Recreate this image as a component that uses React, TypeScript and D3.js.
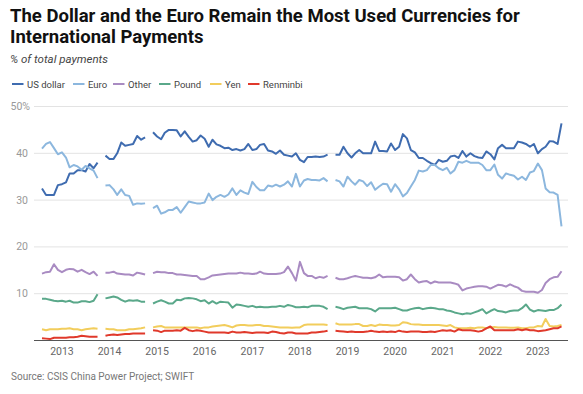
import React from "react";
import * as d3 from "d3";

const W = 583;
const H = 394;

const startMonth = new Date(2012, 7, 1); // Aug 2012
const N = 132;
const months: Date[] = Array.from({ length: N }, (_, i) => d3.timeMonth.offset(startMonth, i));

const usDollar: (number | null)[] = [
  32.5, 31.1, 31.1, 31.1, 33.2, 33.4, 33.8, 35.7, 35.7, 36.4, 36.4, 36.1, 37.7, 36.8, 38.0, null,
  39.5, 38.8, 38.8, 40.0, 42.3, 41.6, 41.8, 42.0, 43.7, 42.9, 43.4, null,
  44.5, 43.6, 43.0, 44.4, 45.0, 45.0, 44.9, 43.6, 44.7, 43.5, 42.5, 42.8, 43.8, 43.1, 41.4, 42.9,
  41.9, 41.6, 41.1, 41.2, 40.7, 40.9, 40.6, 40.9, 42.0, 40.7, 40.9, 41.8, 42.0, 40.6, 40.4, 39.9,
  40.6, 39.7, 39.5, 39.3, 40.0, 38.6, 38.1, 39.2, 39.2, 39.3, 39.2, 39.3, 39.7, null,
  39.7, 39.7, 41.4, 40.0, 39.1, 40.0, 40.7, 40.0, 40.0, 40.0, 42.5, 40.5, 40.5, 40.4, 42.1, 40.7,
  41.4, 44.1, 43.2, 40.7, 40.2, 39.0, 39.0, 38.4, 37.9, 37.5, 38.6, 38.2, 38.4, 39.3, 39.5, 39.0,
  40.5, 39.3, 40.0, 39.4, 39.1, 39.0, 40.4, 39.8, 38.7, 41.1, 41.8, 41.1, 41.1, 41.1, 42.5, 42.3,
  42.0, 41.4, 42.0, 40.0, 40.9, 41.4, 42.6, 42.5, 42.0, 46.4,
];

const euro: (number | null)[] = [
  41.0, 42.0, 42.4, 41.1, 39.8, 40.2, 39.1, 37.0, 37.5, 37.2, 36.5, 37.3, 36.8, 36.3, 34.7, null,
  33.1, 33.2, 32.3, 31.1, 32.3, 31.1, 30.9, 29.0, 29.3, 29.2, 29.3, null,
  28.3, 28.8, 27.1, 27.4, 27.9, 27.9, 28.5, 27.3, 28.5, 29.7, 29.5, 29.3, 29.3, 29.5, 31.4, 30.0,
  30.7, 31.1, 30.7, 31.2, 32.5, 31.1, 32.1, 31.6, 31.3, 33.9, 32.8, 32.1, 32.1, 33.1, 32.9, 33.3,
  32.9, 33.3, 34.0, 32.9, 35.6, 32.9, 34.2, 34.5, 34.3, 34.3, 34.2, 34.7, 34.0, null,
  34.3, 34.0, 32.9, 35.0, 34.0, 33.3, 34.3, 34.0, 33.0, 33.8, 32.2, 32.9, 33.5, 33.4, 31.8, 33.4,
  32.3, 30.8, 31.5, 32.9, 34.3, 36.3, 36.1, 36.4, 37.5, 37.5, 36.8, 36.4, 36.9, 35.7, 36.4, 38.2,
  38.0, 38.4, 38.0, 38.0, 38.0, 37.5, 36.4, 36.4, 37.6, 35.4, 34.6, 35.7, 35.4, 35.2, 34.4, 35.0,
  34.3, 35.9, 36.2, 37.8, 36.4, 32.5, 31.7, 31.6, 31.1, 24.4,
];

const other: (number | null)[] = [
  14.3, 14.6, 14.7, 16.3, 15.1, 14.6, 15.1, 15.3, 15.2, 14.7, 15.1, 14.6, 14.2, 14.7, 13.8, null,
  14.5, 14.5, 14.7, 14.3, 14.2, 14.1, 14.1, 13.9, 14.5, 14.3, 14.1, null,
  14.4, 14.7, 14.6, 14.6, 14.4, 14.4, 14.1, 14.1, 14.0, 13.9, 13.8, 13.8, 13.1, 13.1, 13.5, 13.9,
  14.0, 14.1, 14.2, 14.3, 14.3, 14.3, 14.5, 14.3, 14.3, 14.2, 14.3, 14.7, 14.3, 14.2, 14.2, 14.2,
  14.3, 14.6, 15.8, 14.4, 12.8, 16.8, 14.4, 13.8, 13.8, 13.3, 13.6, 13.4, 13.8, null,
  13.4, 13.1, 13.1, 13.3, 13.6, 13.8, 13.6, 13.4, 13.4, 13.3, 13.5, 14.1, 13.5, 13.6, 13.6, 13.6,
  13.5, 12.8, 13.1, 14.1, 13.1, 12.4, 12.6, 12.7, 12.2, 12.6, 12.4, 12.4, 12.4, 12.4, 12.2, 11.9,
  10.7, 11.1, 11.3, 11.5, 11.6, 11.6, 11.5, 11.1, 11.5, 11.9, 11.8, 11.5, 12.0, 11.6, 11.3, 10.6,
  10.4, 10.4, 10.4, 10.2, 10.8, 12.3, 13.1, 13.5, 13.6, 14.8,
];

const pound: (number | null)[] = [
  8.9, 8.9, 8.7, 8.5, 8.4, 8.5, 8.3, 8.5, 8.1, 8.1, 8.4, 8.4, 8.2, 8.5, 9.9, null,
  9.0, 9.2, 9.4, 9.2, 8.7, 8.3, 8.6, 8.5, 8.6, 8.3, 8.3, null,
  7.9, 8.3, 8.6, 8.3, 7.9, 7.9, 8.7, 8.6, 9.0, 9.1, 9.0, 8.8, 8.4, 8.6, 7.9, 8.4,
  7.9, 8.3, 8.2, 8.1, 7.0, 7.7, 7.6, 7.4, 7.2, 7.4, 7.1, 7.2, 7.1, 7.1, 7.2, 7.2,
  7.4, 7.2, 7.6, 7.4, 7.1, 7.1, 7.2, 7.1, 7.4, 7.4, 7.4, 7.2, 6.7, null,
  7.2, 7.0, 6.7, 7.0, 7.1, 7.2, 6.9, 6.9, 6.9, 6.7, 6.2, 6.9, 6.9, 6.9, 6.9, 7.0,
  6.7, 6.4, 6.4, 6.7, 6.9, 7.0, 6.7, 6.9, 7.0, 6.9, 6.7, 6.7, 6.4, 6.3, 6.0, 5.8,
  5.6, 5.8, 5.7, 6.0, 6.3, 6.7, 5.8, 6.3, 6.7, 6.3, 6.2, 6.0, 6.3, 6.4, 6.4, 6.9,
  7.7, 6.6, 6.2, 6.5, 6.4, 6.3, 6.5, 6.5, 6.9, 7.7,
];

const yen: (number | null)[] = [
  2.4, 2.2, 2.4, 2.4, 2.4, 2.5, 2.5, 2.6, 2.4, 2.4, 2.2, 2.4, 2.5, 2.6, 2.5, null,
  2.5, 2.4, 2.4, 2.2, 2.2, 2.2, 2.4, 2.4, 2.5, 2.6, 2.8, null,
  2.8, 3.0, 3.1, 2.8, 2.8, 2.8, 2.8, 2.8, 2.8, 2.8, 2.8, 2.8, 2.6, 2.8, 2.8, 3.0,
  3.1, 3.2, 3.3, 3.1, 2.8, 3.2, 3.3, 3.3, 3.2, 3.2, 3.3, 3.3, 3.1, 3.1, 3.0, 2.9,
  2.8, 2.8, 2.8, 2.7, 2.8, 2.8, 3.3, 3.4, 3.4, 3.4, 3.4, 3.4, 3.3, null,
  3.7, 3.4, 3.4, 3.4, 3.4, 3.5, 3.5, 3.1, 3.1, 3.3, 3.1, 3.4, 3.3, 3.3, 3.2, 3.2,
  3.3, 3.9, 3.8, 3.5, 3.4, 3.4, 3.3, 3.3, 3.3, 3.3, 3.3, 3.2, 3.1, 3.3, 2.8, 2.6,
  2.6, 2.6, 2.7, 2.6, 2.8, 2.8, 2.6, 2.8, 2.9, 2.8, 2.8, 2.8, 2.7, 2.7, 2.8, 2.6,
  2.6, 2.8, 2.8, 3.1, 3.0, 4.6, 3.1, 3.0, 3.1, 3.3,
];

const renminbi: (number | null)[] = [
  0.5, 0.4, 0.3, 0.6, 0.6, 0.6, 0.6, 0.7, 0.7, 0.8, 1.0, 0.9, 0.8, 0.8, 0.8, null,
  1.0, 1.2, 1.3, 1.2, 1.3, 1.4, 1.4, 1.5, 1.5, 1.5, 1.5, null,
  2.2, 2.1, 1.8, 2.1, 2.1, 2.1, 2.2, 2.1, 2.7, 2.2, 2.0, 2.2, 2.1, 1.9, 1.7, 1.7,
  1.7, 1.7, 1.7, 1.6, 1.9, 1.7, 1.7, 1.8, 1.7, 1.6, 1.7, 1.7, 1.7, 1.6, 1.9, 1.8,
  1.6, 1.5, 1.7, 1.7, 1.5, 1.5, 1.5, 1.5, 1.7, 1.7, 1.8, 1.9, 2.1, null,
  2.1, 2.0, 1.9, 1.8, 1.9, 1.8, 1.8, 1.8, 1.9, 2.1, 1.9, 1.8, 1.9, 1.8, 1.9, 1.8,
  2.1, 1.9, 1.8, 1.9, 1.9, 1.9, 1.8, 1.8, 1.9, 1.8, 2.0, 2.2, 2.1, 2.2, 1.9, 2.4,
  2.2, 2.2, 2.2, 2.1, 1.9, 2.1, 2.6, 3.0, 2.2, 2.2, 2.2, 2.2, 2.2, 2.2, 2.4, 2.2,
  2.4, 2.2, 2.2, 2.0, 2.1, 2.2, 2.4, 2.6, 2.6, 3.0,
];

const seriesNames = ["US dollar", "Euro", "Other", "Pound", "Yen", "Renminbi"];
const seriesData = [usDollar, euro, other, pound, yen, renminbi];
const seriesColors = ["#3f6cb0", "#8cb7de", "#a98bc2", "#5aa88a", "#f2cd5c", "#e0392b"];

const yTicks = [10, 20, 30, 40, 50];
const xYears = [2013, 2014, 2015, 2016, 2017, 2018, 2019, 2020, 2021, 2022, 2023];

const legendX = [12, 73, 113, 159, 210, 248];

export default function App() {
  const x = d3
    .scaleTime()
    .domain([startMonth, months[N - 1]])
    .range([42, 561.5]);
  const y = d3.scaleLinear().domain([0, 50]).range([340.5, 106.5]);

  const line = d3
    .line<number | null>()
    .defined((d) => d !== null)
    .x((_, i) => x(months[i]))
    .y((d) => y(d as number));

  const font = "Roboto, 'Noto Sans', sans-serif";

  return (
    <svg
      width={W}
      height={H}
      style={{ position: "absolute", left: 0, top: 0, background: "#fff" }}
      fontFamily={font}
    >
      <rect width={W} height={H} fill="#fff" />
      <text x={10} y={22} fontSize={18.5} fontWeight={700} fill="#111">
        The Dollar and the Euro Remain the Most Used Currencies for
      </text>
      <text x={10} y={43} fontSize={18.5} fontWeight={700} fill="#111">
        International Payments
      </text>
      <text x={10} y={63} fontSize={11.5} fontStyle="italic" fill="#444">
        % of total payments
      </text>

      {seriesNames.map((name, i) => (
        <g key={name} transform={`translate(${legendX[i]},84)`}>
          <line x1={0} x2={11.5} y1={0} y2={0} stroke={seriesColors[i]} strokeWidth={2} />
          <text x={15} y={3.5} fontSize={9.5} fill="#444">
            {name}
          </text>
        </g>
      ))}

      {yTicks.map((t) => (
        <g key={t}>
          <line x1={34} x2={568} y1={y(t)} y2={y(t)} stroke="#e3e3e3" strokeWidth={1} />
          <text x={t === 50 ? 30 : 28} y={y(t) + 3.5} fontSize={10.5} fill="#999" textAnchor="end">
            {t === 50 ? "50%" : t}
          </text>
        </g>
      ))}

      {seriesData.map((d, i) => (
        <path
          key={seriesNames[i]}
          d={line(d) || ""}
          fill="none"
          stroke={seriesColors[i]}
          strokeWidth={2}
          strokeLinejoin="round"
        />
      ))}

      <line x1={34} x2={568} y1={y(0)} y2={y(0)} stroke="#555" strokeWidth={1} />

      {xYears.map((yr) => (
        <text
          key={yr}
          x={x(new Date(yr, 0, 1))}
          y={355}
          fontSize={10.5}
          fill="#666"
          textAnchor="middle"
        >
          {yr}
        </text>
      ))}

      <text x={11} y={380} fontSize={10} fill="#777">
        Source: CSIS China Power Project; SWIFT
      </text>
    </svg>
  );
}
